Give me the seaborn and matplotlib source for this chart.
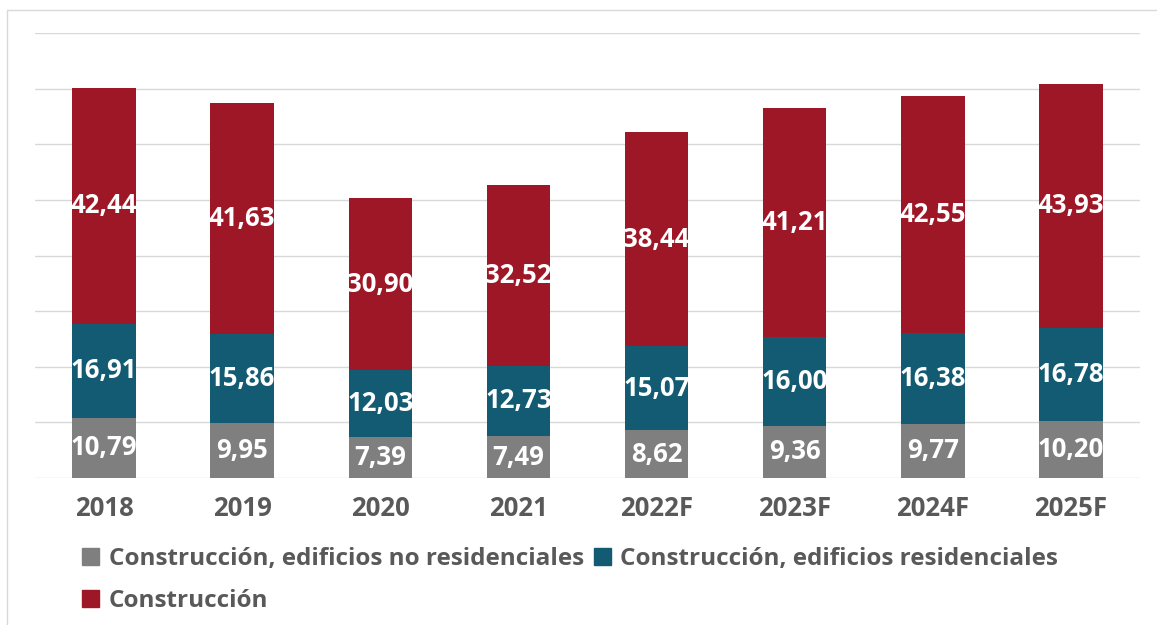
import numpy as np
import pandas as pd
import matplotlib.pyplot as plt
import seaborn as sns
from matplotlib.lines import Line2D
from matplotlib.patches import Patch

# --- data ---
years = ['2018', '2019', '2020', '2021', '2022F', '2023F', '2024F', '2025F']
no_residenciales = [10.79, 9.95, 7.39, 7.49, 8.62, 9.36, 9.77, 10.20]
residenciales = [16.91, 15.86, 12.03, 12.73, 15.07, 16.00, 16.38, 16.78]
construccion = [42.44, 41.63, 30.90, 32.52, 38.44, 41.21, 42.55, 43.93]

series_names = ['Construcción, edificios no residenciales',
                'Construcción, edificios residenciales',
                'Construcción']
colors = ['#7f7f7f', '#135b73', '#9d1726']

sns.set_theme(style='white')
plt.rcParams['font.family'] = ['Open Sans', 'DejaVu Sans']

df = pd.DataFrame({'year': years, 'nr': no_residenciales,
                   'r': residenciales, 'c': construccion})

fig = plt.figure(figsize=(11.57, 6.25), dpi=100)
ax = fig.add_axes([35 / 1157, 1 - 478 / 625, (1140 - 35) / 1157, (478 - 33) / 625])

bottom = np.zeros(len(years))
for col, color in zip(['nr', 'r', 'c'], colors):
    sns.barplot(data=df, x='year', y=col, color=color, bottom=bottom,
                width=0.46, ax=ax, saturation=1, linewidth=0)
    bottom = bottom + df[col].values

for cont, col in zip(ax.containers, ['nr', 'r', 'c']):
    labels = [f'{v:.2f}'.replace('.', ',') for v in df[col]]
    ax.bar_label(cont, labels=labels, label_type='center', color='white',
                 fontsize=18.5, fontweight='bold')

ax.set_ylim(0, 80)
ax.set_xlim(-0.5, len(years) - 0.5)
ax.set_yticks(np.arange(0, 81, 10))
ax.set_yticklabels([])
ax.yaxis.grid(True, color='#d9d9d9', linewidth=1)
ax.set_axisbelow(True)
for s in ax.spines.values():
    s.set_visible(False)
ax.tick_params(axis='y', length=0)
ax.tick_params(axis='x', length=0, pad=12, labelsize=18.5, labelcolor='#595959')
for t in ax.get_xticklabels():
    t.set_fontweight('bold')
ax.set_xlabel('')
ax.set_ylabel('')

# legend: row-major order with two columns
handles = [Patch(color=colors[i]) for i in range(3)]
order = [0, 2, 1]
leg = fig.legend([handles[i] for i in order], [series_names[i] for i in order],
                 ncol=2, loc='upper left', bbox_to_anchor=(82 / 1157, 1 - 547 / 625),
                 frameon=False, fontsize=17.5, handlelength=0.7, handleheight=0.7,
                 handletextpad=0.4, columnspacing=0.4, labelspacing=0.75,
                 borderpad=0, borderaxespad=0)
for t in leg.get_texts():
    t.set_color('#595959')
    t.set_fontweight('bold')

# outer frame lines
fig.add_artist(Line2D([7 / 1157, 1], [1 - 10 / 625, 1 - 10 / 625], color='#d9d9d9', lw=1))
fig.add_artist(Line2D([7 / 1157, 7 / 1157], [0, 1 - 10 / 625], color='#d9d9d9', lw=1))

fig.savefig('out.png', dpi=100)
